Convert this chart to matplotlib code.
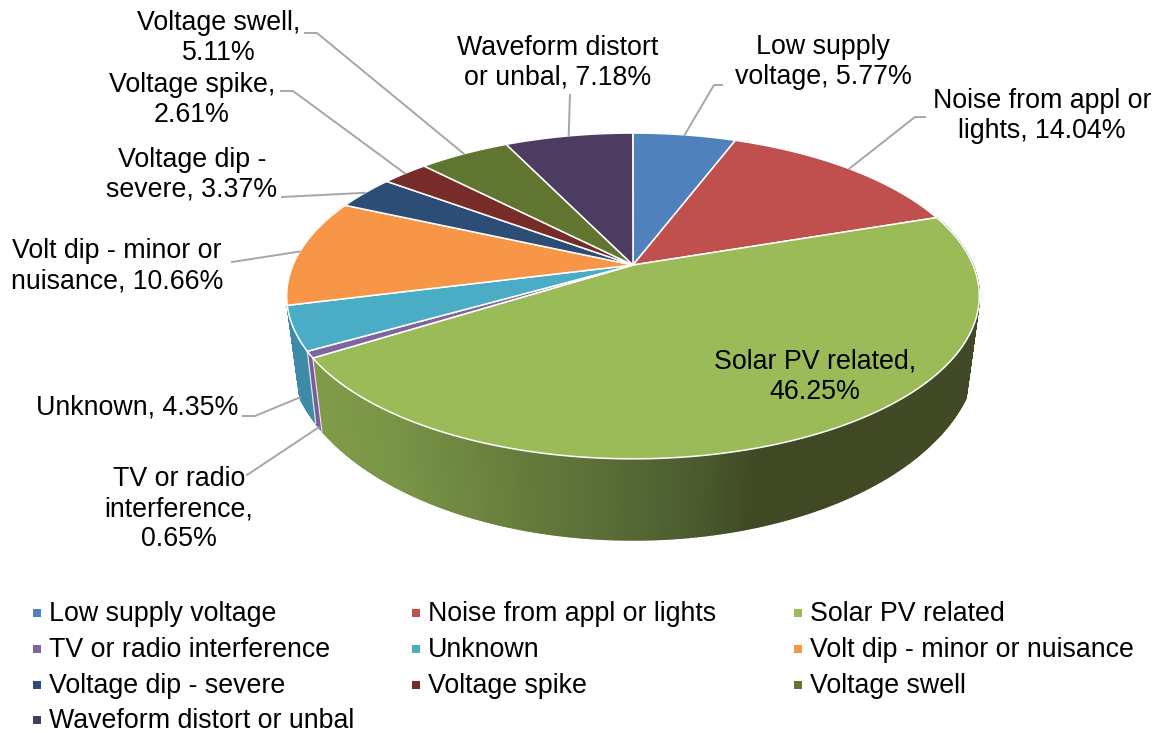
import numpy as np
import matplotlib
matplotlib.use('Agg')
import matplotlib.pyplot as plt

plt.rcParams['font.family'] = ['Liberation Sans', 'DejaVu Sans']

# data
categories = ['Low supply voltage', 'Noise from appl or lights', 'Solar PV related',
              'TV or radio interference', 'Unknown', 'Volt dip - minor or nuisance',
              'Voltage dip - severe', 'Voltage spike', 'Voltage swell',
              'Waveform distort or unbal']
values = [5.77, 14.04, 46.25, 0.65, 4.35, 10.66, 3.37, 2.61, 5.11, 7.18]
colors = ['#4f81bd', '#c0504d', '#9bbb59', '#8064a2', '#4bacc6',
          '#f79646', '#2c4d75', '#772c2a', '#5f7530', '#4d3b62']
labels = ['Low supply\nvoltage, 5.77%', 'Noise from appl or\nlights, 14.04%',
          'Solar PV related,\n46.25%', 'TV or radio\ninterference,\n0.65%',
          'Unknown, 4.35%', 'Volt dip - minor or\nnuisance, 10.66%',
          'Voltage dip -\nsevere, 3.37%', 'Voltage spike,\n2.61%',
          'Voltage swell,\n5.11%', 'Waveform distort\nor unbal, 7.18%']

# layout, in pixels of the picture
label_pos = [(823, 62), (1042, 116), (815, 377), (179, 509), (137, 408),
             (117, 266), (192, 175), (192, 100), (219, 38), (558, 63)]
elbows = [[(722, 85), (714, 85)], [(925, 117), (915, 117)], None, [(247, 475)],
          [(243, 416), (255, 416)], [(232, 262)], [(282, 197)],
          [(281, 91), (293, 91)], [(305, 33), (317, 33)], [(570, 95)]]
legend_x = [37, 416, 798]
legend_y = [613, 649, 685, 720]
font = 19.3

fig = plt.figure(figsize=(11.61, 7.33), dpi=100)
ax = fig.add_axes([0, 0, 1, 1])
ax.set_xlim(0, 1161)
ax.set_ylim(733, 0)
ax.axis('off')


def top(theta):
    # top face, circle seen in perspective
    u, v = np.sin(theta), np.cos(theta)
    d = 1 + 0.19 * v
    return 633 + 340 * u / d, 265 - 157 * v / d


def bottom(theta):
    # lower rim of the side wall, cut straight near the far left and right
    u, v = np.sin(theta), np.cos(theta)
    d = 1 + 0.13 * v
    x = 633 + 342.1 * u / d
    y = 323 - 188.8 * v / d
    limit = 344 - (y - 318) * 0.138
    return np.clip(x, 633 - limit, 633 + limit), y


edges = np.cumsum([0] + values) / 100 * 2 * np.pi
mids = (edges[:-1] + edges[1:]) / 2

# side wall, strip by strip so the green one can carry its shading
shade_x = [320, 400, 500, 600, 700, 755, 1000]
shade_r = [128, 120, 105, 90, 74, 63, 65]
shade_g = [155, 148, 128, 110, 90, 73, 74]
shade_b = [72, 70, 62, 55, 46, 35, 38]
for i in range(2, 5):
    t = np.linspace(edges[i], edges[i + 1], int(values[i] * 12) + 2)
    for a, b in zip(t[:-1], t[1:]):
        x0, y0 = top(a)
        x1, y1 = top(b)
        x2, y2 = bottom(b)
        x3, y3 = bottom(a)
        if i == 2:
            xm = (x0 + x1 + x2 + x3) / 4
            c = (np.interp(xm, shade_x, shade_r) / 255,
                 np.interp(xm, shade_x, shade_g) / 255,
                 np.interp(xm, shade_x, shade_b) / 255)
        elif i == 3:
            c = '#7a5c9c'
        else:
            c = '#3d8ba6'
        ax.fill([x0, x1, x2, x3], [y0, y1, y2, y3], facecolor=c, edgecolor=c, lw=1.0, zorder=1)
    if i > 2:
        x, y = zip(top(edges[i]), bottom(edges[i]))
        ax.plot(x, y, color='#e4e4e4', lw=0.9, zorder=1.5)

# top face
for i in range(len(values)):
    t = np.linspace(edges[i], edges[i + 1], int(values[i] * 6) + 3)
    x, y = top(t)
    ax.fill(np.r_[633, x], np.r_[265, y], facecolor=colors[i], edgecolor='white',
            lw=1.1, joinstyle='round', zorder=2)

# leader lines
for i in range(len(values)):
    if elbows[i] is None:
        continue
    end = bottom(mids[i]) if i in (3, 4) else top(mids[i])
    pts = elbows[i] + [end]
    ax.plot([p[0] for p in pts], [p[1] for p in pts], color='#a6a6a6', lw=1.4, zorder=3)

# data labels
for i in range(len(values)):
    ax.text(label_pos[i][0], label_pos[i][1], labels[i], fontsize=font, ha='center',
            va='center', linespacing=1.2, color='black', zorder=4)

# legend, filled row by row
for i in range(len(categories)):
    lx = legend_x[i % 3]
    ly = legend_y[i // 3]
    ax.scatter([lx], [ly], marker='s', s=38, color=colors[i], linewidths=0, zorder=4)
    ax.text(lx + 12, ly + 1, categories[i], fontsize=font, va='center', ha='left', color='black')

fig.savefig('out.png', dpi=100)
